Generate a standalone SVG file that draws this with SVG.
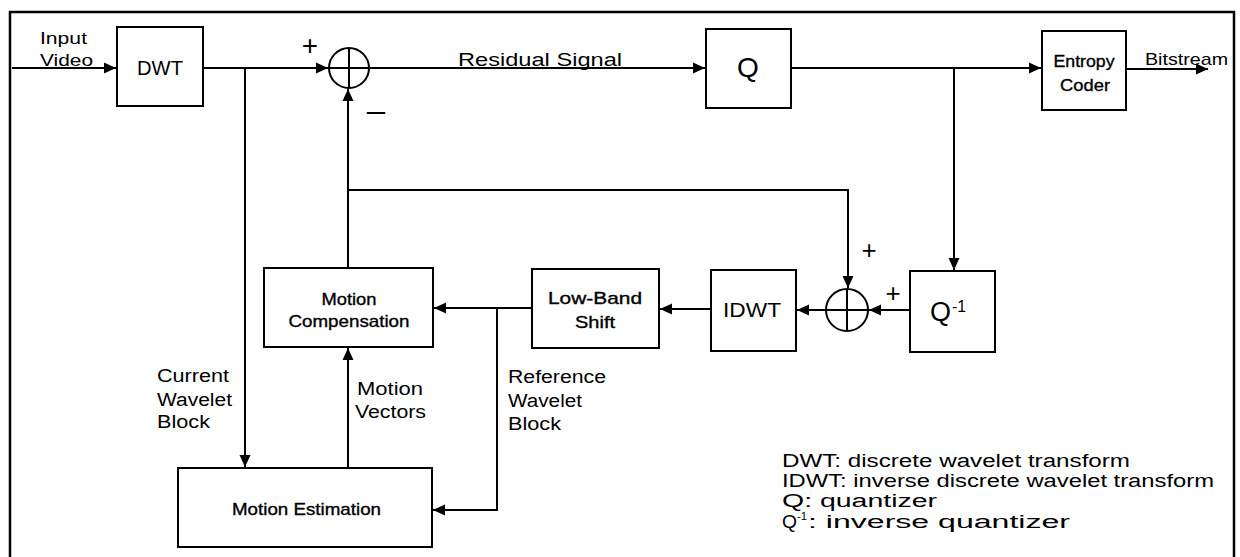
<svg xmlns="http://www.w3.org/2000/svg" width="1240" height="557" viewBox="0 0 1240 557">
<defs>
<marker id="ah" markerUnits="userSpaceOnUse" markerWidth="12" markerHeight="12" viewBox="0 0 12 12" refX="12" refY="6" orient="auto">
<path d="M0,0.5 L12,6 L0,11.5 Z" fill="#000"/>
</marker>
</defs>
<style>
.box{fill:#fff;stroke:#000;stroke-width:2}
.ln{fill:none;stroke:#000;stroke-width:2}
.ar{fill:none;stroke:#000;stroke-width:2;marker-end:url(#ah)}
text{font-family:"Liberation Sans",Arial,sans-serif;fill:#000}
.c{text-anchor:middle}
.b{stroke:#000;stroke-width:0.35}
</style>
<rect x="0" y="0" width="1240" height="557" fill="#fff"/>
<rect x="10" y="12" width="1224" height="560" fill="none" stroke="#000" stroke-width="2.5"/>

<g id="connectors">
<path class="ar" d="M12,68 H116"/>
<path class="ar" d="M203,68 H328"/>
<path class="ar" d="M245,68 V467"/>
<path class="ar" d="M348,268 V89"/>
<path class="ar" d="M348,190 H848 V288"/>
<path class="ar" d="M370,68 H705"/>
<path class="ar" d="M791,68 H1041"/>
<path class="ar" d="M954,68 V270"/>
<path class="ar" d="M1126,69 H1208"/>
<path class="ar" d="M910,310 H869"/>
<path class="ar" d="M826,310 H797"/>
<path class="ar" d="M711,309 H660"/>
<path class="ar" d="M532,308 H434"/>
<path class="ar" d="M497,308 V510 H433"/>
<path class="ar" d="M348,468 V348"/>
</g>

<g id="input-label">
<text x="40" y="44" font-size="17" textLength="47" lengthAdjust="spacingAndGlyphs">Input</text>
<text x="40" y="66" font-size="17" textLength="53" lengthAdjust="spacingAndGlyphs">Video</text>
</g>

<g id="dwt">
<rect class="box" x="117" y="27" width="86" height="79"/>
<text class="c" x="160" y="75" font-size="20" textLength="46" lengthAdjust="spacingAndGlyphs">DWT</text>
</g>

<g id="adder1">
<circle class="box" cx="349" cy="68" r="20"/>
<path class="ln" d="M329,68 H369 M349,48 V88"/>
<text class="c" x="310" y="55" font-size="28">+</text>
<text class="c" x="376" y="122" font-size="28" textLength="22" lengthAdjust="spacingAndGlyphs">−</text>
</g>

<g id="residual-label">
<text x="458" y="66" font-size="18" textLength="164" lengthAdjust="spacingAndGlyphs">Residual Signal</text>
</g>

<g id="q">
<rect class="box" x="706" y="29" width="85" height="79"/>
<text class="c" x="748" y="77" font-size="28">Q</text>
</g>

<g id="entropy-coder">
<rect class="box" x="1042" y="31" width="84" height="79"/>
<text class="c b" x="1084" y="67" font-size="17" textLength="61" lengthAdjust="spacingAndGlyphs">Entropy</text>
<text class="c b" x="1085" y="91" font-size="17" textLength="50" lengthAdjust="spacingAndGlyphs">Coder</text>
</g>

<g id="bitstream-label">
<text x="1145" y="65" font-size="17" textLength="83" lengthAdjust="spacingAndGlyphs">Bitstream</text>
</g>

<g id="motion-compensation">
<rect class="box" x="264" y="268" width="169" height="79"/>
<text class="c b" x="349" y="305" font-size="17" textLength="55" lengthAdjust="spacingAndGlyphs">Motion</text>
<text class="c b" x="349" y="327" font-size="17" textLength="121" lengthAdjust="spacingAndGlyphs">Compensation</text>
</g>

<g id="low-band-shift">
<rect class="box" x="532" y="269" width="127" height="79"/>
<text class="c b" x="595" y="304" font-size="17" textLength="94" lengthAdjust="spacingAndGlyphs">Low-Band</text>
<text class="c b" x="595" y="328" font-size="17" textLength="40" lengthAdjust="spacingAndGlyphs">Shift</text>
</g>

<g id="idwt">
<rect class="box" x="711" y="270" width="85" height="81"/>
<text class="c" x="752" y="317" font-size="21" textLength="58" lengthAdjust="spacingAndGlyphs">IDWT</text>
</g>

<g id="adder2">
<circle class="box" cx="847" cy="310" r="21"/>
<path class="ln" d="M826,310 H868 M847,289 V331"/>
<text class="c" x="869" y="259" font-size="26">+</text>
<text class="c" x="893" y="302" font-size="26">+</text>
</g>

<g id="q-inverse">
<rect class="box" x="910" y="271" width="85" height="81"/>
<text x="930" y="321" font-size="27">Q</text>
<text x="952" y="312" font-size="16">-1</text>
</g>

<g id="motion-estimation">
<rect class="box" x="178" y="468" width="254" height="79"/>
<text class="b" x="232" y="515" font-size="17" textLength="149" lengthAdjust="spacingAndGlyphs">Motion Estimation</text>
</g>

<g id="labels">
<text x="157" y="382" font-size="18" textLength="72" lengthAdjust="spacingAndGlyphs">Current</text>
<text x="157" y="406" font-size="18" textLength="75" lengthAdjust="spacingAndGlyphs">Wavelet</text>
<text x="157" y="428" font-size="18" textLength="53" lengthAdjust="spacingAndGlyphs">Block</text>
<text x="357" y="395" font-size="18" textLength="66" lengthAdjust="spacingAndGlyphs">Motion</text>
<text x="355" y="418" font-size="18" textLength="71" lengthAdjust="spacingAndGlyphs">Vectors</text>
<text x="508" y="383" font-size="18" textLength="98" lengthAdjust="spacingAndGlyphs">Reference</text>
<text x="508" y="407" font-size="18" textLength="74" lengthAdjust="spacingAndGlyphs">Wavelet</text>
<text x="508" y="430" font-size="18" textLength="53" lengthAdjust="spacingAndGlyphs">Block</text>
</g>

<g id="legend">
<text x="782" y="467" font-size="18" textLength="348" lengthAdjust="spacingAndGlyphs">DWT: discrete wavelet transform</text>
<text x="782" y="487" font-size="18" textLength="432" lengthAdjust="spacingAndGlyphs">IDWT: inverse discrete wavelet transform</text>
<text x="782" y="507" font-size="18" textLength="155" lengthAdjust="spacingAndGlyphs">Q: quantizer</text>
<text x="782" y="528" font-size="18" textLength="15" lengthAdjust="spacingAndGlyphs">Q</text>
<text x="797" y="520" font-size="11" textLength="10" lengthAdjust="spacingAndGlyphs">-1</text>
<text x="808" y="528" font-size="18" textLength="262" lengthAdjust="spacingAndGlyphs">: inverse quantizer</text>
</g>
</svg>
